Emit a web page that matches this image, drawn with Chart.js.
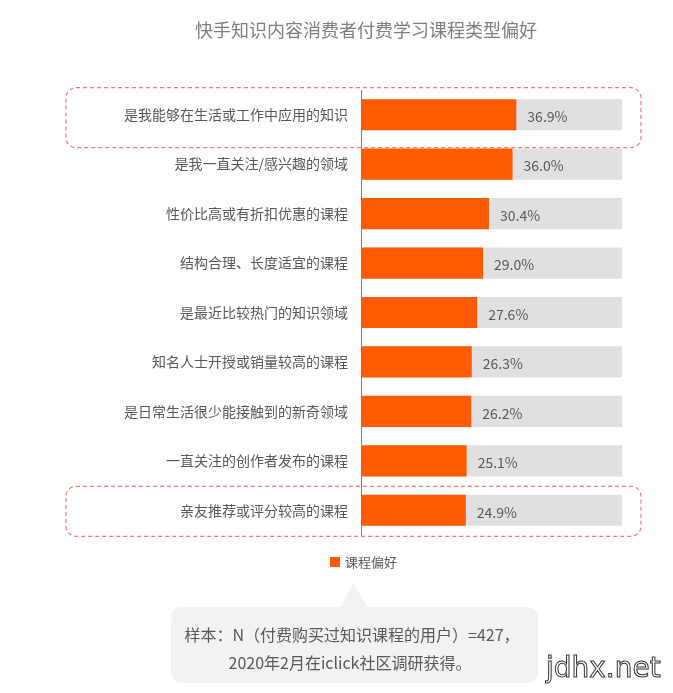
<!DOCTYPE html>
<html>
<head>
<meta charset="utf-8">
<title>快手知识内容消费者付费学习课程类型偏好</title>
<script src="https://cdn.jsdelivr.net/npm/chart.js@4/dist/chart.umd.min.js"></script>
<style>
  html, body { margin: 0; padding: 0; background: #ffffff; }
  #wrap { width: 673px; height: 693px; }
</style>
</head>
<body>
<div id="wrap"><canvas id="grafico" width="673" height="693"></canvas></div>
<script>
// datos
const titulo = '快手知识内容消费者付费学习课程类型偏好';
const categorias = [
  '是我能够在生活或工作中应用的知识',
  '是我一直关注/感兴趣的领域',
  '性价比高或有折扣优惠的课程',
  '结构合理、长度适宜的课程',
  '是最近比较热门的知识领域',
  '知名人士开授或销量较高的课程',
  '是日常生活很少能接触到的新奇领域',
  '一直关注的创作者发布的课程',
  '亲友推荐或评分较高的课程'
];
const valores = [36.9, 36.0, 30.4, 29.0, 27.6, 26.3, 26.2, 25.1, 24.9];
const fondo = categorias.map(() => 62);   // barra gris de fondo
const serie = '课程偏好';
const resaltados = [0, 8];                // filas con recuadro punteado
const nota = ['样本：N（付费购买过知识课程的用户）=427，', '2020年2月在iclick社区调研获得。'];

const fuente = '"Noto Sans CJK SC", "Noto Sans", sans-serif';
const naranja = '#ff5b00';
const textoGris = '#595959';

// plugin para dibujar título, etiquetas, recuadros, leyenda y nota
const extras = {
  id: 'extras',
  afterDatasetsDraw(chart) {
    const ctx = chart.ctx;
    const y = chart.scales.y;
    ctx.save();

    // título
    ctx.font = '18px ' + fuente;
    ctx.fillStyle = '#7f7f7f';
    ctx.textAlign = 'center';
    ctx.textBaseline = 'middle';
    ctx.fillText(titulo, 366, 30);

    // etiquetas de valor
    ctx.font = '14px ' + fuente;
    ctx.fillStyle = textoGris;
    ctx.textAlign = 'left';
    chart.getDatasetMeta(0).data.forEach((bar, i) => {
      ctx.fillText(valores[i].toFixed(1) + '%', bar.x + 11, bar.y + 2);
    });

    // recuadros punteados (el primero es un poco más alto)
    ctx.strokeStyle = '#f07b7f';
    ctx.lineWidth = 1.2;
    ctx.setLineDash([4, 3]);
    resaltados.forEach((i, k) => {
      const cy = y.getPixelForValue(i);
      const arriba = k === 0 ? 27 : 24;
      const alto = k === 0 ? 60 : 50;
      ctx.beginPath();
      ctx.roundRect(66, cy - arriba, 575, alto, 10);
      ctx.stroke();
    });
    ctx.setLineDash([]);

    // leyenda
    ctx.fillStyle = naranja;
    ctx.fillRect(330, 557, 10, 10);
    ctx.font = '13px ' + fuente;
    ctx.fillStyle = textoGris;
    ctx.textAlign = 'left';
    ctx.fillText(chart.data.datasets[0].label, 345, 562);

    // nota en globo
    ctx.fillStyle = '#f2f2f2';
    ctx.beginPath();
    ctx.roundRect(171, 607, 367, 76, 10);
    ctx.fill();
    ctx.beginPath();
    ctx.moveTo(340, 608);
    ctx.lineTo(353, 583);
    ctx.lineTo(368, 608);
    ctx.closePath();
    ctx.fill();
    ctx.font = '16px ' + fuente;
    ctx.fillStyle = textoGris;
    ctx.textAlign = 'center';
    ctx.fillText(nota[0], 352, 635);
    ctx.fillText(nota[1], 350, 663);

    // marca de agua
    ctx.font = '28px "DejaVu Sans", sans-serif';
    ctx.textAlign = 'left';
    ctx.fillStyle = '#ffffff';
    ctx.fillText('jdhx.net', 546, 670);
    ctx.strokeStyle = '#333333';
    ctx.lineWidth = 1;
    ctx.strokeText('jdhx.net', 546, 670);

    ctx.restore();
  }
};

function graficar() {
  const ctx = document.getElementById('grafico').getContext('2d');
  new Chart(ctx, {
    type: 'bar',
    data: {
      labels: categorias,
      datasets: [
        {
          label: serie,
          data: valores,
          backgroundColor: naranja,
          grouped: false,
          barPercentage: 0.63,
          categoryPercentage: 1
        },
        {
          label: 'fondo',
          data: fondo,
          backgroundColor: '#e0e0e0',
          grouped: false,
          barPercentage: 0.63,
          categoryPercentage: 1
        }
      ]
    },
    options: {
      indexAxis: 'y',
      responsive: false,
      animation: false,
      layout: {
        padding: { left: 0, right: 51, top: 90, bottom: 158 }
      },
      plugins: {
        legend: { display: false },
        title: { display: false },
        tooltip: { enabled: false }
      },
      scales: {
        x: {
          display: false,
          min: 0,
          max: 62
        },
        y: {
          afterFit(scale) { scale.width = 361; },
          grid: { display: false, drawTicks: false },
          border: { display: true, color: '#7f7f7f', width: 1 },
          ticks: {
            padding: 13,
            color: textoGris,
            font: { size: 14, family: fuente }
          }
        }
      }
    },
    plugins: [extras]
  });
}

window.onload = function() {
  graficar();
};
</script>
</body>
</html>
